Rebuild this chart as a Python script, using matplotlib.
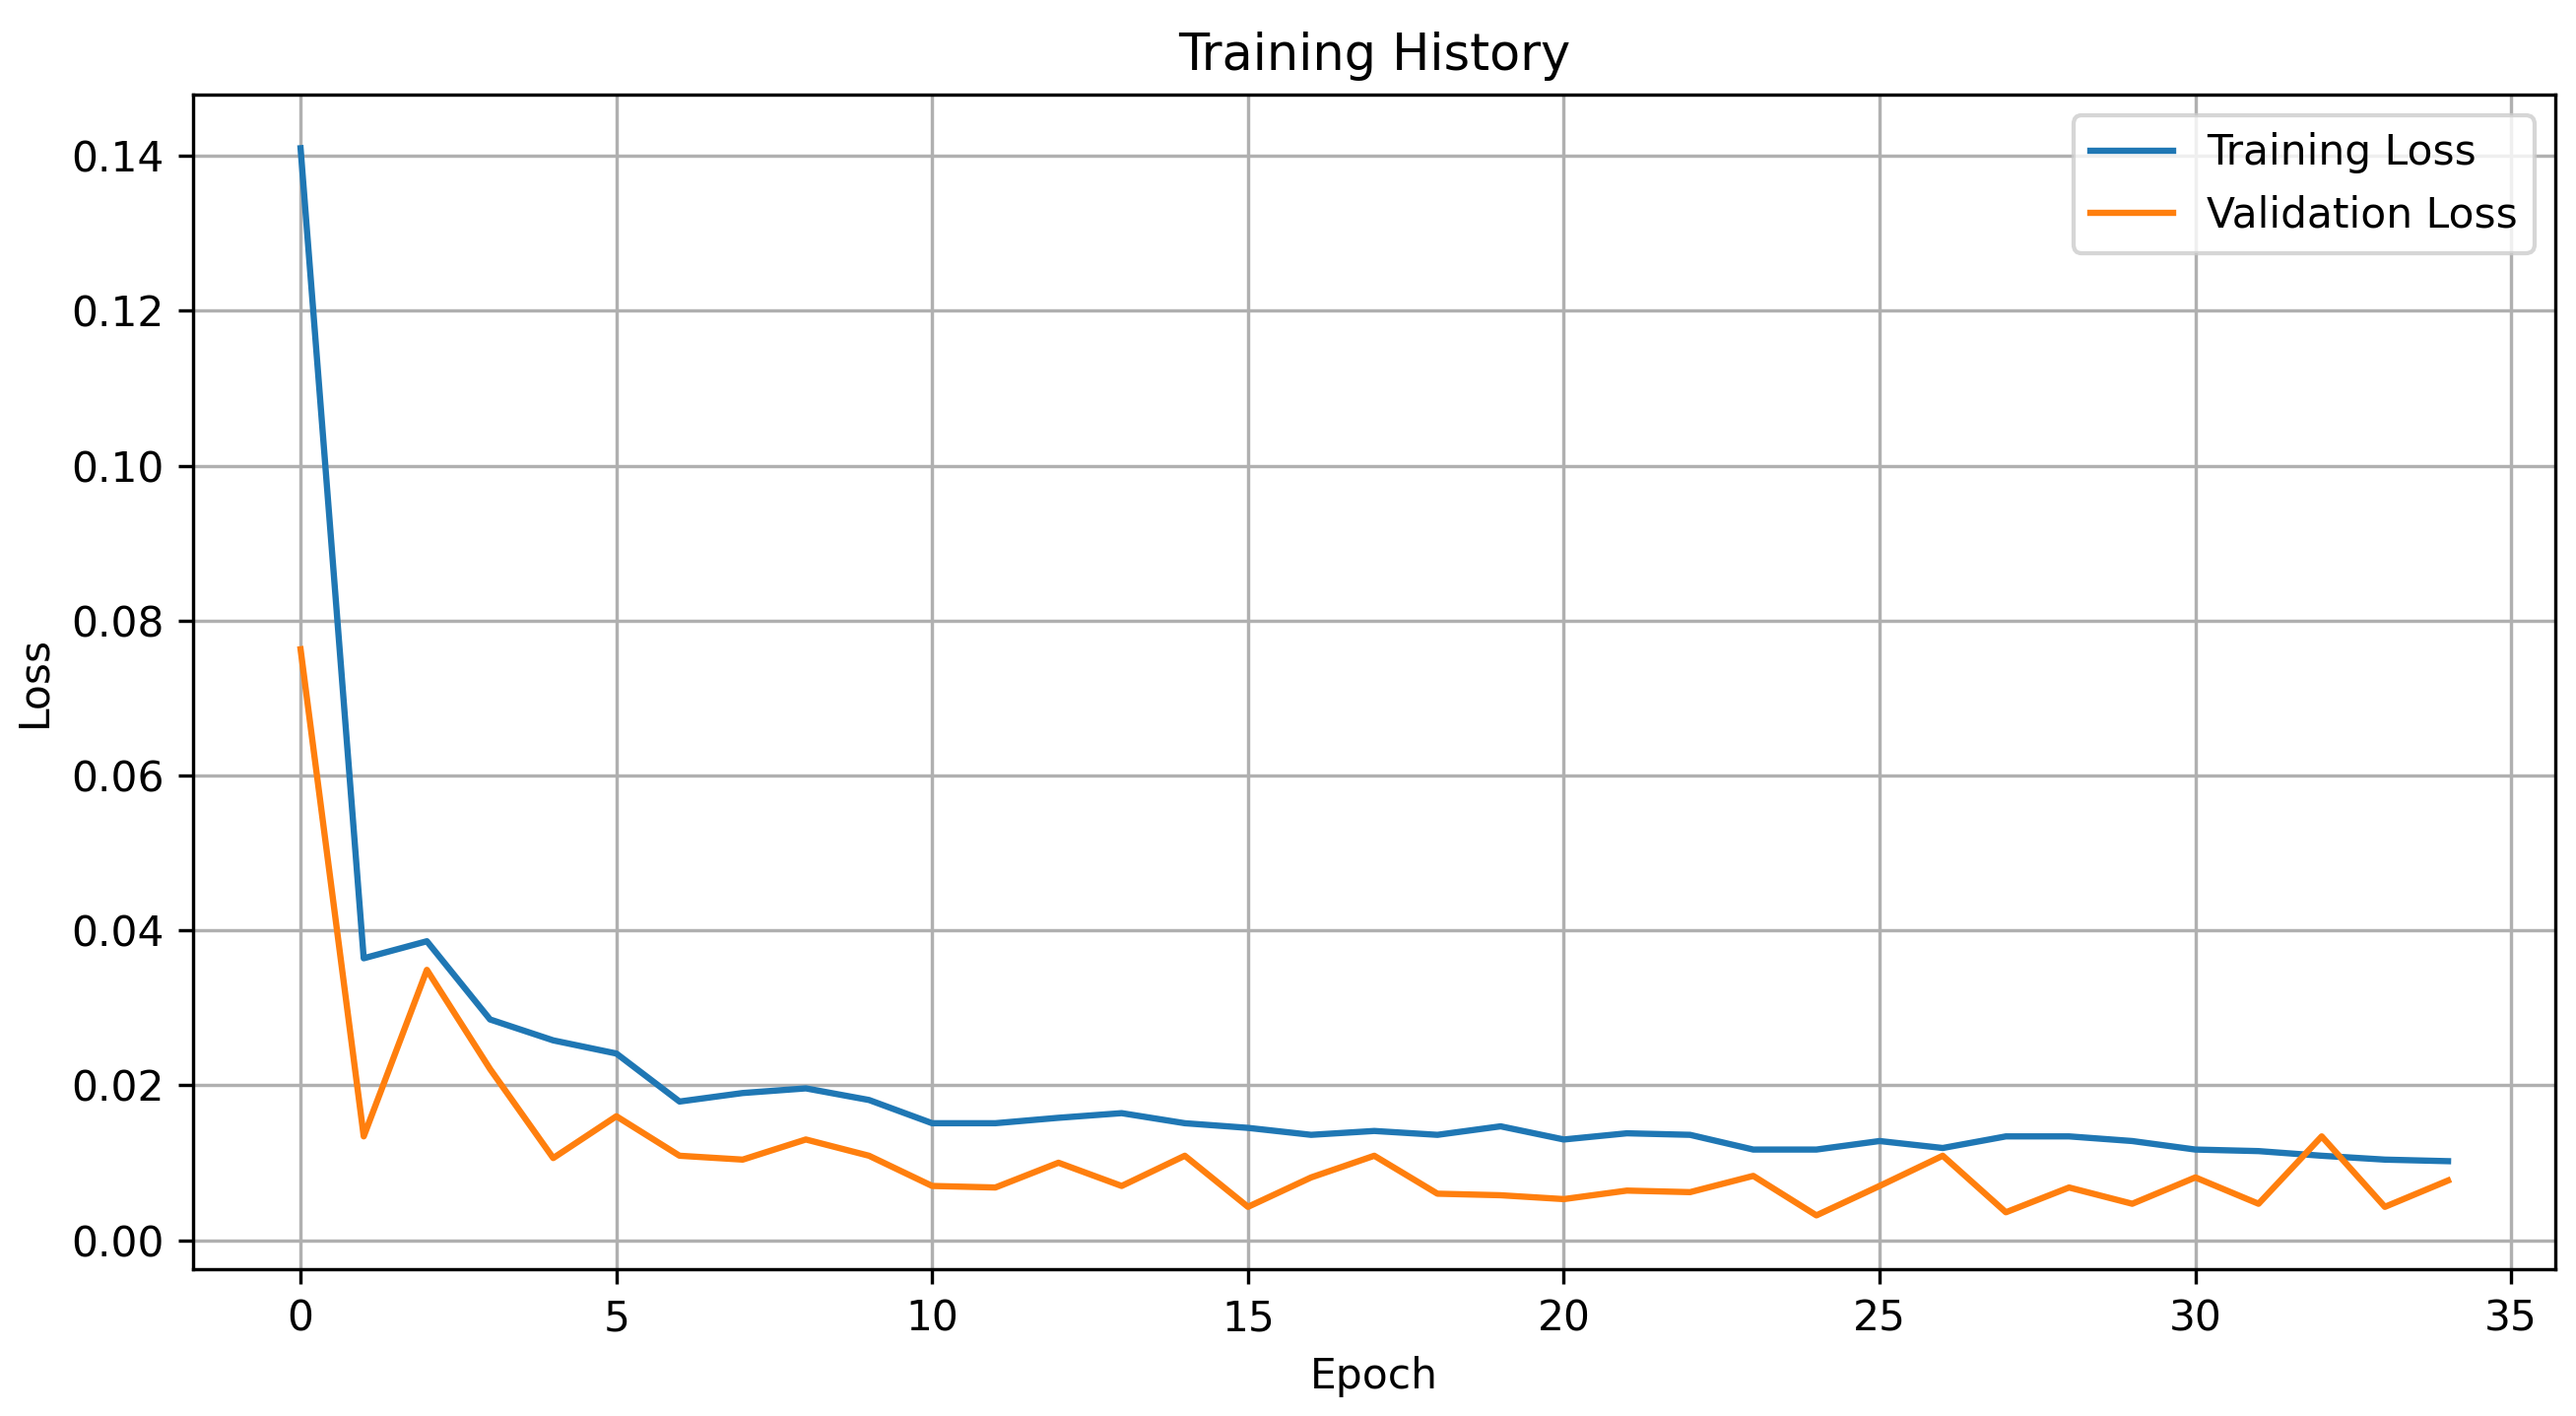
import matplotlib
matplotlib.use("Agg")
import matplotlib.pyplot as plt

epochs = list(range(35))
train_loss = [0.141, 0.0364, 0.0386, 0.0285, 0.0258, 0.0241, 0.0179, 0.0190, 0.0196, 0.0181,
              0.0151, 0.0151, 0.0158, 0.0164, 0.0151, 0.0145, 0.0136, 0.0141, 0.0136, 0.0147,
              0.0130, 0.0138, 0.0136, 0.0117, 0.0117, 0.0128, 0.0119, 0.0134, 0.0134, 0.0128,
              0.0117, 0.0115, 0.0109, 0.0104, 0.0102]
val_loss = [0.0763, 0.0134, 0.0349, 0.0221, 0.0106, 0.0160, 0.0109, 0.0104, 0.0130, 0.0109,
            0.0070, 0.0068, 0.0100, 0.0070, 0.0109, 0.0043, 0.0081, 0.0109, 0.0060, 0.0058,
            0.0053, 0.0064, 0.0062, 0.0083, 0.0032, 0.0070, 0.0109, 0.0036, 0.0068, 0.0047,
            0.0081, 0.0047, 0.0134, 0.0043, 0.0077]

dpi = 305
fig, ax = plt.subplots(figsize=(2615 / dpi, 1437 / dpi), dpi=dpi)
fig.subplots_adjust(left=0.075, right=0.992, top=0.933, bottom=0.104)
ax.plot(epochs, train_loss, label="Training Loss")
ax.plot(epochs, val_loss, label="Validation Loss")
ax.set_title("Training History")
ax.set_xlabel("Epoch")
ax.set_ylabel("Loss")
ax.legend()
ax.grid(True)
fig.savefig("out.png", dpi=dpi)
